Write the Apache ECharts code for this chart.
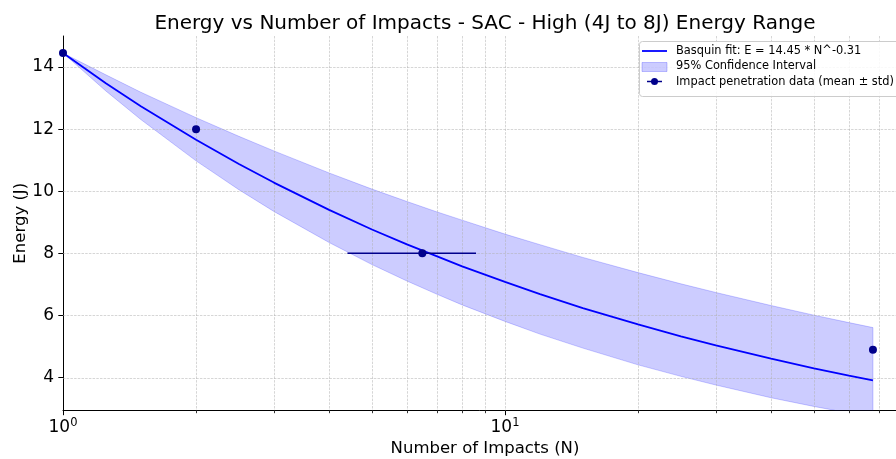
<!DOCTYPE html>
<html><head><meta charset="utf-8">
<script src="https://cdn.jsdelivr.net/npm/echarts@6/dist/echarts.min.js"></script>
<style>html,body{margin:0;padding:0;background:#fff}#c{width:896px;height:459px}</style>
</head><body><div id="c"></div>
<script>
// ---- data ----
const sampleN = [1,1.25,1.5,2,2.5,3,4,5,6,7,8,10,12,15,20,25,30,40,50,60,68];
const fitE    = [14.45,13.48,12.74,11.66,10.88,10.28,9.40,8.77,8.29,7.91,7.58,7.08,6.69,6.24,5.71,5.33,5.04,4.61,4.30,4.06,3.91];
const ciUpper = [14.45,13.75,13.19,12.37,11.77,11.30,10.59,10.07,9.67,9.34,9.07,8.62,8.28,7.87,7.38,7.02,6.74,6.32,6.01,5.77,5.61];
const ciLower = [14.45,13.23,12.31,10.98,10.05,9.35,8.35,7.64,7.11,6.69,6.34,5.81,5.40,4.95,4.41,4.04,3.76,3.35,3.07,2.86,2.72];
const pointN   = [1, 2, 6.5, 68];
const pointE   = [14.45, 12.0, 8.0, 4.9];
const pointStd = [0, 0, 2.1, 0];
const yTicks = [4, 6, 8, 10, 12, 14];
const xGridVals = [2,3,4,5,6,7,8,9,10,20,30,40,50,60,70,80];
const xMinorTickVals = [2,3,4,5,6,7,8,9,20,30,40,50,60,70,80];
const legendLabels = ['Basquin fit: E = 14.45 * N^-0.31', '95% Confidence Interval', 'Impact penetration data (mean \u00b1 std)'];
const titleText = 'Energy vs Number of Impacts - SAC - High (4J to 8J) Energy Range';

const X_MIN = 1, X_MAX = 81.2, Y_MIN = 2.94, Y_MAX = 15.0;
const FONT = 'DejaVu Sans';

const chart = echarts.init(document.getElementById('c'), null, {renderer: 'canvas'});

const toXY = (xs, ys) => xs.map((x, i) => [x, ys[i]]);

const errSeries = [];
pointN.forEach((n, i) => {
  if (pointStd[i] > 0) {
    errSeries.push({
      type: 'line', z: 4, silent: true, symbol: 'none',
      data: [[n - pointStd[i], pointE[i]], [n + pointStd[i], pointE[i]]],
      lineStyle: {color: '#00008B', width: 1.5}
    });
  }
});

const GRID_STYLE = {stroke: 'rgba(176,176,176,0.75)', lineWidth: 0.7, lineDash: [2.5, 1.2]};

const option = {
  animation: false,
  backgroundColor: '#fff',
  textStyle: {fontFamily: FONT},
  title: {
    text: titleText, left: 480, top: 9, textAlign: 'center',
    textStyle: {fontFamily: FONT, fontSize: 20, fontWeight: 'normal', color: '#000'}
  },
  grid: {left: 63, top: 36, right: -11, bottom: 48.5, containLabel: false, outerBoundsMode: 'none'},
  xAxis: {
    type: 'log', logBase: 10, min: X_MIN, max: X_MAX,
    name: 'Number of Impacts (N)', nameLocation: 'middle', nameGap: 30, nameMoveOverlap: false,
    nameTextStyle: {fontFamily: FONT, fontSize: 16.5, color: '#000'},
    axisLine: {show: true, onZero: false, lineStyle: {color: '#000', width: 1}},
    axisTick: {show: true, length: 4.7, lineStyle: {color: '#000', width: 1}},
    splitLine: {show: false},
    axisLabel: {
      color: '#000', margin: 7, showMaxLabel: false,
      formatter: v => {
        const l = Math.log10(v);
        if (Math.abs(l - Math.round(l)) > 1e-6) return '';
        return '{b|10}{s|' + Math.round(l) + '}';
      },
      rich: {
        b: {fontFamily: FONT, fontSize: 17, color: '#000'},
        s: {fontFamily: FONT, fontSize: 11.5, color: '#000', verticalAlign: 'top', padding: [0, 0, 8, 0]}
      }
    }
  },
  yAxis: {
    type: 'value', min: Y_MIN, max: Y_MAX,
    name: 'Energy (J)', nameLocation: 'middle', nameGap: 34, nameRotate: 90, nameMoveOverlap: false,
    nameTextStyle: {fontFamily: FONT, fontSize: 16.5, color: '#000'},
    axisLine: {show: true, onZero: false, lineStyle: {color: '#000', width: 1}},
    axisTick: {show: true, length: 4.7, customValues: yTicks, lineStyle: {color: '#000', width: 1}},
    splitLine: {show: false},
    axisLabel: {customValues: yTicks, color: '#000', fontFamily: FONT, fontSize: 17, margin: 9}
  },
  series: [
    {
      name: 'ci', type: 'custom', z: 1, silent: true, clip: true,
      data: [[X_MIN, Y_MIN]],
      renderItem: function (params, api) {
        const cs = params.coordSys;
        const pts = [];
        for (let i = 0; i < sampleN.length; i++) pts.push(api.coord([sampleN[i], ciUpper[i]]));
        for (let i = sampleN.length - 1; i >= 0; i--) pts.push(api.coord([sampleN[i], ciLower[i]]));
        return {
          type: 'polygon', shape: {points: pts},
          clipPath: {type: 'rect', shape: {x: cs.x, y: cs.y, width: cs.width, height: cs.height}},
          style: {fill: 'rgba(0,0,255,0.2)', stroke: 'rgba(0,0,255,0.2)', lineWidth: 1}
        };
      }
    },
    {
      type: 'custom', z: 2, silent: true,
      data: xGridVals.map(v => [v]),
      renderItem: function (params, api) {
        const cs = params.coordSys;
        const x = Math.round(api.coord([api.value(0), Y_MIN])[0]) + 0.5;
        return {type: 'line', shape: {x1: x, y1: cs.y, x2: x, y2: cs.y + cs.height}, style: GRID_STYLE};
      }
    },
    {
      type: 'custom', z: 2, silent: true,
      data: yTicks.map(v => [X_MIN, v]),
      renderItem: function (params, api) {
        const cs = params.coordSys;
        const y = Math.round(api.coord([X_MIN, api.value(1)])[1]) + 0.5;
        return {type: 'line', shape: {x1: cs.x, y1: y, x2: cs.x + cs.width, y2: y}, style: GRID_STYLE};
      }
    },
    {
      type: 'custom', z: 5, silent: true,
      data: xMinorTickVals.map(v => [v]),
      renderItem: function (params, api) {
        const cs = params.coordSys;
        const x = Math.round(api.coord([api.value(0), Y_MIN])[0]) + 0.5;
        const yb = cs.y + cs.height;
        return {type: 'line', shape: {x1: x, y1: yb, x2: x, y2: yb + 2.7},
          style: {stroke: '#000', lineWidth: 0.8}};
      }
    },
    {
      name: 'fit', type: 'line', z: 3, silent: true, symbol: 'none',
      data: toXY(sampleN, fitE),
      lineStyle: {color: '#0000FF', width: 1.8}
    },
    ...errSeries,
    {
      name: 'points', type: 'scatter', z: 6, silent: true, symbol: 'circle', symbolSize: 8,
      data: toXY(pointN, pointE),
      itemStyle: {color: '#00008B', opacity: 1}
    }
  ],
  graphic: [
    {type: 'rect', z: 100, shape: {x: 639.5, y: 41.5, width: 280, height: 55, r: 3},
      style: {fill: 'rgba(255,255,255,0.85)', stroke: '#cccccc', lineWidth: 1}},
    {type: 'line', z: 101, shape: {x1: 642, y1: 51, x2: 667, y2: 51}, style: {stroke: '#0000FF', lineWidth: 1.8}},
    {type: 'rect', z: 101, shape: {x: 642, y: 62.5, width: 25, height: 9},
      style: {fill: 'rgba(0,0,255,0.2)', stroke: 'rgba(0,0,255,0.22)', lineWidth: 1}},
    {type: 'line', z: 101, shape: {x1: 647, y1: 81.5, x2: 662, y2: 81.5}, style: {stroke: '#00008B', lineWidth: 1.5}},
    {type: 'circle', z: 102, shape: {cx: 654.5, cy: 81.5, r: 3.5}, style: {fill: '#00008B'}},
    {type: 'text', z: 101, x: 676, y: 51, style: {text: legendLabels[0], fill: '#000', font: '11.4px "DejaVu Sans"', verticalAlign: 'middle'}},
    {type: 'text', z: 101, x: 676, y: 66.5, style: {text: legendLabels[1], fill: '#000', font: '11.4px "DejaVu Sans"', verticalAlign: 'middle'}},
    {type: 'text', z: 101, x: 676, y: 81.7, style: {text: legendLabels[2], fill: '#000', font: '11.4px "DejaVu Sans"', verticalAlign: 'middle'}}
  ]
};
chart.setOption(option);
</script>
</body></html>
